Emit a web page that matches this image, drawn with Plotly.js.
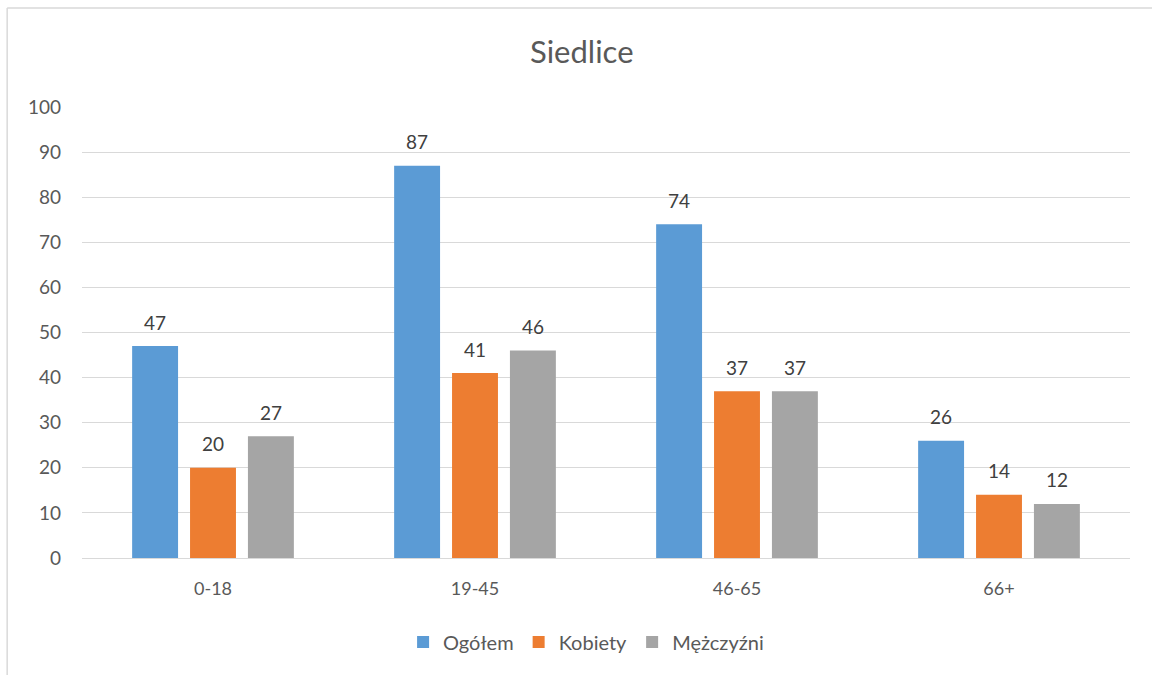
<!DOCTYPE html>
<html><head><meta charset="utf-8">
<script src="https://cdn.plot.ly/plotly-3.0.1.min.js"></script>
<style>html,body{margin:0;padding:0;background:#fff;}#chart{width:1152px;height:675px;}</style>
</head><body><div id="chart"></div>
<script>
const categories = ["0-18", "19-45", "46-65", "66+"];
const seriesNames = ["Ogółem", "Kobiety", "Mężczyźni"];
const ogolem = [47, 87, 74, 26];
const kobiety = [20, 41, 37, 14];
const mezczyzni = [27, 46, 37, 12];
const colors = ["#5B9BD5", "#ED7D31", "#A5A5A5"];
const yTicks = [0, 10, 20, 30, 40, 50, 60, 70, 80, 90, 100];

const font = "Lato, 'Open Sans', sans-serif";
const values = [ogolem, kobiety, mezczyzni];
const traces = values.map((v, i) => ({
  type: "bar", name: seriesNames[i], x: categories, y: v,
  marker: {color: colors[i]},
  hoverinfo: "none"
}));

const annotations = [];
values.forEach((v, i) => {
  v.forEach((val, j) => {
    annotations.push({
      x: categories[j], y: val, xref: "x", yref: "y",
      text: String(val), showarrow: false,
      xshift: (i - 1) * 58, yshift: 24,
      font: {family: font, size: 19, color: "#404040"}
    });
  });
});

const layout = {
  width: 1152, height: 675,
  margin: {l: 82, r: 22, t: 107, b: 117},
  paper_bgcolor: "#fff", plot_bgcolor: "#fff",
  title: {text: "Siedlice", font: {family: font, size: 31, color: "#595959"}, x: 0.505, xanchor: "center", y: 0.923, yanchor: "middle"},
  barmode: "group", bargap: 0.337, bargroupgap: 0.207,
  xaxis: {type: "category", tickfont: {family: font, size: 18, color: "#595959"}, showline: true, linecolor: "#D9D9D9", linewidth: 1, ticks: "", ticklen: 0, ticklabelstandoff: 14},
  yaxis: {range: [0, 100], tickvals: yTicks, ticktext: yTicks.map(String), tickfont: {family: font, size: 19, color: "#595959"}, gridcolor: "#D9D9D9", gridwidth: 1, zeroline: false, ticks: "", ticklabelstandoff: 20, fixedrange: true},
  showlegend: true,
  legend: {orientation: "h", x: 0.481, xanchor: "center", y: -0.186, yanchor: "middle", font: {family: font, size: 20, color: "#595959"}, itemwidth: 30, traceorder: "normal"},
  annotations: annotations,
  shapes: [
    {type: "line", xref: "paper", yref: "paper", x0: -0.0714, x1: -0.0714, y0: 1.2195, y1: -0.3, line: {color: "#D9D9D9", width: 1.5}},
    {type: "line", xref: "paper", yref: "paper", x0: -0.0714, x1: 1.05, y0: 1.2195, y1: 1.2195, line: {color: "#D9D9D9", width: 1.5}}
  ]
};
Plotly.newPlot("chart", traces, layout, {displayModeBar: false, staticPlot: true});
</script></body></html>
